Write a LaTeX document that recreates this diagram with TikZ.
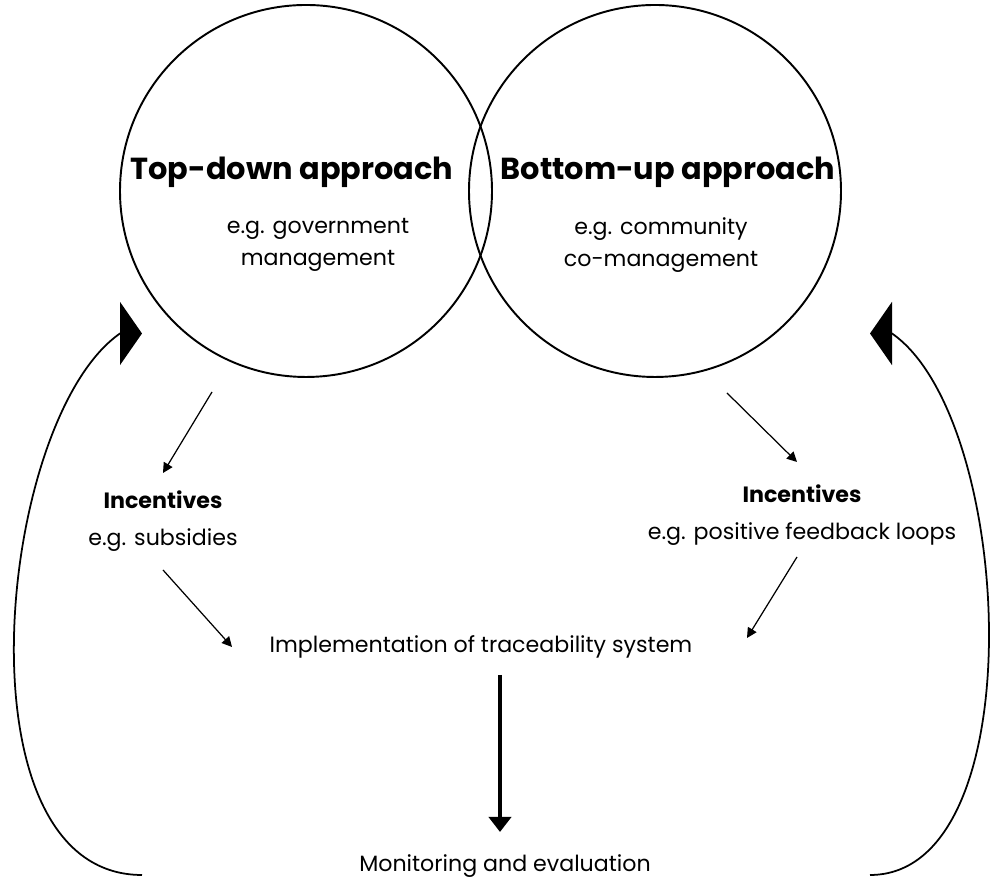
\documentclass[tikz,border=0pt]{standalone}
\usepackage{fontspec}
\setmainfont{Poppins}
\usetikzlibrary{arrows.meta,positioning}

\begin{document}
\begin{tikzpicture}[
    appr/.style={draw, circle, minimum size=7.44cm, inner sep=0pt, line width=1.1pt},
    ttl/.style={font=\bfseries\fontsize{17.3}{20}\selectfont, anchor=base},
    txt/.style={font=\fontsize{12.6}{17.8}\selectfont, align=center},
    arr/.style={-{Triangle[length=2mm, width=2mm]}, line width=0.7pt},
    bigarr/.style={-{Triangle[length=3mm, width=4.4mm]}, line width=2.2pt},
    fb/.style={-{Triangle[length=4.4mm, width=12.6mm]}, line width=1pt}
]
\useasboundingbox (0,0) rectangle (19.82,17.62);

% the two approaches
\node[appr] (td) at (6.12,13.8) {};
\node[appr] (bu) at (13.1,13.8) {};
\node[ttl] (tdtitle) at (5.84,14.02) {Top-down approach};
\node[ttl] (butitle) at (13.36,14.02) {Bottom-up approach};
\node[txt] (tdex) at (6.36,12.72) {e.g. government\\management};
\node[txt] (buex) at (13.22,12.72) {e.g. community\\co-management};

% incentives, implementation, monitoring
\node[txt] (tdinc) at (3.26,7.2) {\textbf{Incentives}\\[3pt]e.g. subsidies};
\node[txt] (buinc) at (16.04,7.32) {\textbf{Incentives}\\[3pt]e.g. positive feedback loops};
\node[txt] (impl) at (9.62,4.68) {Implementation of traceability system};
\node[txt] (mon) at (10.1,0.3) {Monitoring and evaluation};

% arrow ends
\coordinate (tdout) at (4.24,9.78);
\coordinate (tdin) at (3.26,8.16);
\coordinate (tdincout) at (3.26,6.22);
\coordinate (impll) at (4.64,4.68);
\coordinate (buout) at (14.54,9.76);
\coordinate (buin) at (15.94,8.38);
\coordinate (buincout) at (15.94,6.48);
\coordinate (implr) at (14.94,4.86);
\coordinate (impldown) at (10.0,4.12);
\coordinate (monup) at (10.0,0.98);

\draw[arr] (tdout) -- (tdin);
\draw[arr] (tdincout) -- (impll);
\draw[arr] (buout) -- (buin);
\draw[arr] (buincout) -- (implr);
\draw[bigarr] (impldown) -- (monup);

% feedback loops
\coordinate (tdfbstart) at (2.84,0.12);
\coordinate (tdfbbase) at (2.40,10.95);
\coordinate (tdfbtip) at (2.84,10.95);
\coordinate (bufbstart) at (17.4,0.12);
\coordinate (bufbbase) at (17.84,10.95);
\coordinate (bufbtip) at (17.40,10.95);
\draw[fb] (tdfbstart) .. controls (-0.94,0.12) and (-0.06,9.24) .. (tdfbbase) -- (tdfbtip);
\draw[fb] (bufbstart) .. controls (20.70,0.12) and (20.30,9.24) .. (bufbbase) -- (bufbtip);
\end{tikzpicture}
\end{document}
